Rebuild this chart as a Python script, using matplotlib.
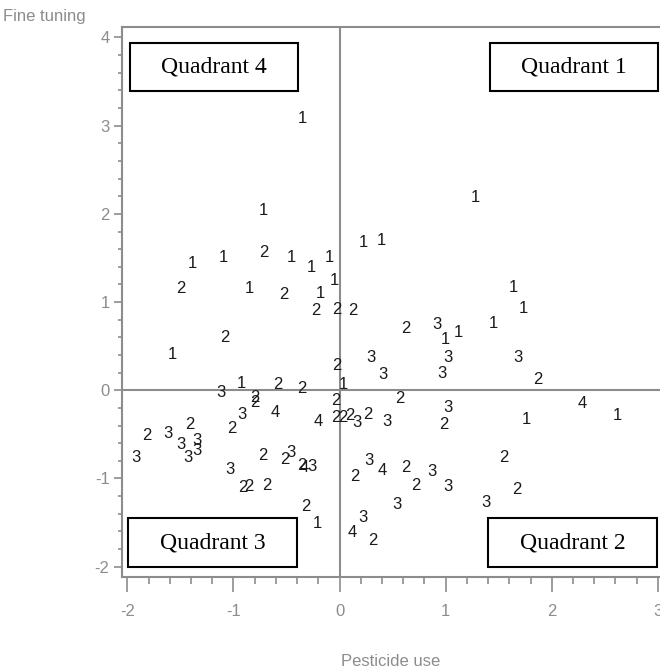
import matplotlib
matplotlib.use("Agg")
import matplotlib.pyplot as plt
from matplotlib.patches import Rectangle
from matplotlib.ticker import MultipleLocator

plt.rcParams["axes.unicode_minus"] = False

# score of each farm on the two axes, and the cluster it belongs to
pesticide = [
    -0.35, 1.28, -0.72, 0.22, 0.39, -1.39, -1.10, -0.71, -0.45, -0.27,
    -0.10, -0.05, -1.50, -0.85, -0.53, -0.18, -0.22, -0.03, 0.12, -1.08,
    -1.58, -0.03, -0.93, -0.58, -0.36, -1.12, -0.80, -0.80, 0.04, 1.64,
    1.73, 0.62, 0.92, 1.00, 1.12, 1.45, 0.30, 1.02, 1.68, 0.41,
    0.96, 1.87, 0.57, 2.29, 1.02, 1.76, 2.62, 0.98, 0.45, 0.27,
    0.16, 0.10, 0.03, -0.04, -0.04, -0.20, 1.55, 0.28, 0.40, 0.14,
    0.62, 0.87, 0.72, 1.02, 1.67, 0.54, 1.38, 0.22, 0.12, 0.31,
    -0.92, -0.61, -1.02, -1.41, -1.82, -1.62, -1.50, -1.34, -1.34, -1.43,
    -1.92, -0.72, -0.46, -0.52, -0.36, -0.33, -0.26, -1.03, -0.91, -0.86,
    -0.69, -0.32, -0.21,
]
fine_tuning = [
    3.08, 2.18, 2.04, 1.68, 1.70, 1.44, 1.50, 1.56, 1.50, 1.39,
    1.50, 1.25, 1.15, 1.15, 1.09, 1.10, 0.91, 0.92, 0.91, 0.60,
    0.40, 0.28, 0.08, 0.07, 0.02, -0.02, -0.08, -0.14, 0.07, 1.17,
    0.93, 0.70, 0.75, 0.58, 0.66, 0.76, 0.37, 0.37, 0.37, 0.18,
    0.19, 0.12, -0.09, -0.15, -0.20, -0.33, -0.29, -0.39, -0.35, -0.28,
    -0.37, -0.29, -0.31, -0.31, -0.12, -0.35, -0.76, -0.80, -0.91, -0.98,
    -0.88, -0.92, -1.08, -1.09, -1.12, -1.29, -1.27, -1.44, -1.61, -1.70,
    -0.27, -0.25, -0.43, -0.39, -0.51, -0.49, -0.61, -0.57, -0.68, -0.76,
    -0.76, -0.74, -0.71, -0.79, -0.85, -0.88, -0.87, -0.90, -1.10, -1.09,
    -1.08, -1.32, -1.51,
]
cluster = [
    1, 1, 1, 1, 1, 1, 1, 2, 1, 1,
    1, 1, 2, 1, 2, 1, 2, 2, 2, 2,
    1, 2, 1, 2, 2, 3, 2, 2, 1, 1,
    1, 2, 3, 1, 1, 1, 3, 3, 3, 3,
    3, 2, 2, 4, 3, 1, 1, 2, 3, 2,
    3, 2, 2, 2, 2, 4, 2, 3, 4, 2,
    2, 3, 2, 3, 2, 3, 3, 3, 4, 2,
    3, 4, 2, 2, 2, 3, 3, 3, 3, 3,
    3, 2, 3, 2, 2, 4, 3, 3, 2, 2,
    2, 2, 1,
]

quadrants = ["Quadrant 4", "Quadrant 1", "Quadrant 3", "Quadrant 2"]

grey = "#8c8c8c"

fig = plt.figure(figsize=(6.6, 6.72), dpi=100)
ax = fig.add_axes([0.185, 0.141, 0.815, 0.819])

ax.set_xlim(-2.05, 3.02)
ax.set_ylim(-2.12, 4.12)

# zero lines split the plane into quadrants
ax.axhline(0, color=grey, lw=1.5, zorder=1)
ax.axvline(0, color=grey, lw=1.5, zorder=1)

for x, y, c in zip(pesticide, fine_tuning, cluster):
    ax.text(x, y, str(c), ha="center", va="center", fontsize=12,
            family="Liberation Sans", color="#1a1a1a", zorder=3)

# quadrant boxes (axes fraction: x0, y0, w, h)
boxes = [(0.015, 0.884, 0.312, 0.087), (0.684, 0.884, 0.312, 0.087),
         (0.011, 0.018, 0.314, 0.089), (0.680, 0.018, 0.314, 0.089)]
for (bx, by, bw, bh), name in zip(boxes, quadrants):
    ax.add_patch(Rectangle((bx, by), bw, bh, transform=ax.transAxes,
                           fill=True, facecolor="white", edgecolor="black",
                           lw=1.5, zorder=4, clip_on=False))
    ax.text(bx + bw / 2, by + bh / 2, name, transform=ax.transAxes,
            ha="center", va="center", fontsize=17, family="Liberation Serif",
            zorder=5)

for side in ["left", "top", "bottom"]:
    ax.spines[side].set_color(grey)
    ax.spines[side].set_linewidth(1.5)
ax.spines["right"].set_visible(False)

ax.xaxis.set_major_locator(MultipleLocator(1))
ax.xaxis.set_minor_locator(MultipleLocator(0.2))
ax.yaxis.set_major_locator(MultipleLocator(1))
ax.yaxis.set_minor_locator(MultipleLocator(0.2))
ax.tick_params(axis="x", which="major", length=11, width=1.2, color=grey,
               labelcolor=grey, labelsize=12, pad=8)
ax.tick_params(axis="x", which="minor", length=5, width=1.2, color=grey)
ax.tick_params(axis="y", which="major", length=6, width=1.2, color=grey,
               labelcolor=grey, labelsize=12, pad=3)
ax.tick_params(axis="y", which="minor", length=3, width=1.2, color=grey)
for lab in ax.get_xticklabels() + ax.get_yticklabels():
    lab.set_family("Liberation Sans")

fig.text(3 / 660, 1 - 17 / 672, "Fine tuning", ha="left", va="center",
         fontsize=12, color=grey, family="Liberation Sans")
fig.text(391 / 660, 1 - 662 / 672, "Pesticide use", ha="center", va="center",
         fontsize=12, color=grey, family="Liberation Sans")

fig.savefig("out.png", dpi=100)
